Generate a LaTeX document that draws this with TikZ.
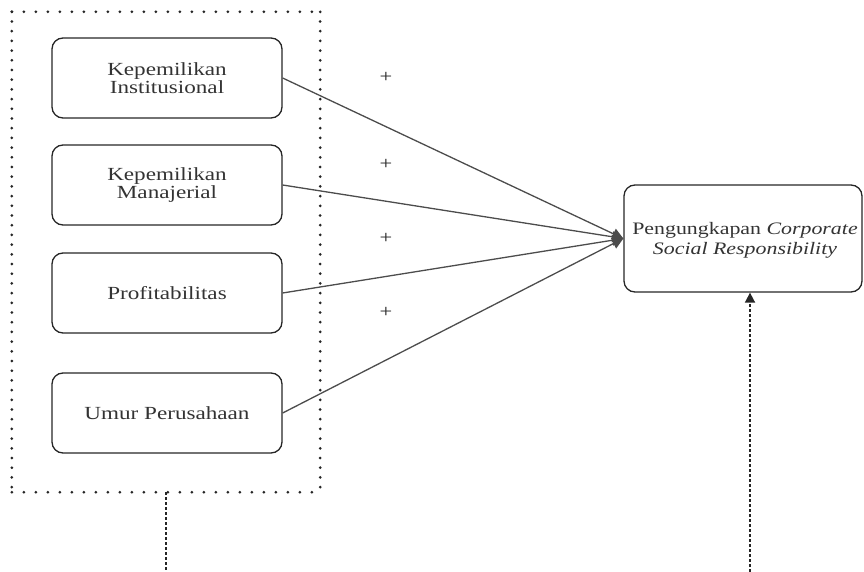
\documentclass[tikz,border=0pt]{standalone}
\usepackage{fontspec}
\setmainfont{Liberation Serif}[FakeStretch=1.25]
\usetikzlibrary{arrows.meta}
\begin{document}
\begin{tikzpicture}[x=1pt,y=-1pt,
  box/.style={draw=black!85, line width=1.3pt, rounded corners=11pt, minimum width=230pt, minimum height=80pt, align=center, font=\fontsize{18.5}{18}\selectfont, text=black!80, inner sep=0pt},
  conn/.style={draw=black!70, line width=1.3pt, -{Triangle[length=11pt,width=11pt]}},
  plus/.style={font=\fontsize{18}{18}\selectfont, text=black!85},
  dots/.style={draw=black!85, line width=3pt, line cap=round, dash pattern=on 0pt off #1},
  dashline/.style={draw=black!85, line width=1.7pt, dash pattern=on 3pt off 2pt},
]
\useasboundingbox (0,0) rectangle (864,572);

% group frame
\node[minimum width=308pt, minimum height=480pt, inner sep=0pt] (g) at (166,252) {};
\draw[dots=12pt] (g.north west) -- (g.north east);
\draw[dots=12pt] (g.south west) -- (g.south east);
\draw[dots=9.7pt] (g.north west) -- (g.south west);
\draw[dots=9.7pt] (g.north east) -- (g.south east);

% boxes
\node[box] (b1) at (167,78) {Kepemilikan\\Institusional};
\node[box] (b2) at (167,185) {Kepemilikan\\Manajerial};
\node[box] (b3) at (167,293) {Profitabilitas};
\node[box] (b4) at (167,413) {Umur Perusahaan};

% target
\node[box, minimum width=238pt, minimum height=107pt] (t) at (743,238.5) {};
\node[font=\fontsize{17.5}{20}\selectfont, text=black!80, align=center, inner sep=0pt] (tl) at (745,240) {Pengungkapan \textit{Corporate}\\\textit{Social Responsibility}};

% plus signs
\node[plus] (p1) at (386,77) {+};
\node[plus] (p2) at (386,164) {+};
\node[plus] (p3) at (386,238) {+};
\node[plus] (p4) at (386,312) {+};

% connectors
\draw[conn] (b1.east) -- (t.west);
\draw[conn] (b2.east) -- (t.west);
\draw[conn] (b3.east) -- (t.west);
\draw[conn] (b4.east) -- (t.west);

% vertical dashed lines
\coordinate (e1) at (166,572);
\coordinate (e2) at (750,572);
\draw[dashline] (g.south) -- (e1);
\draw[dashline, -{Triangle[length=10pt,width=10pt]}] (e2) -- (t.south -| e2);
\end{tikzpicture}
\end{document}
